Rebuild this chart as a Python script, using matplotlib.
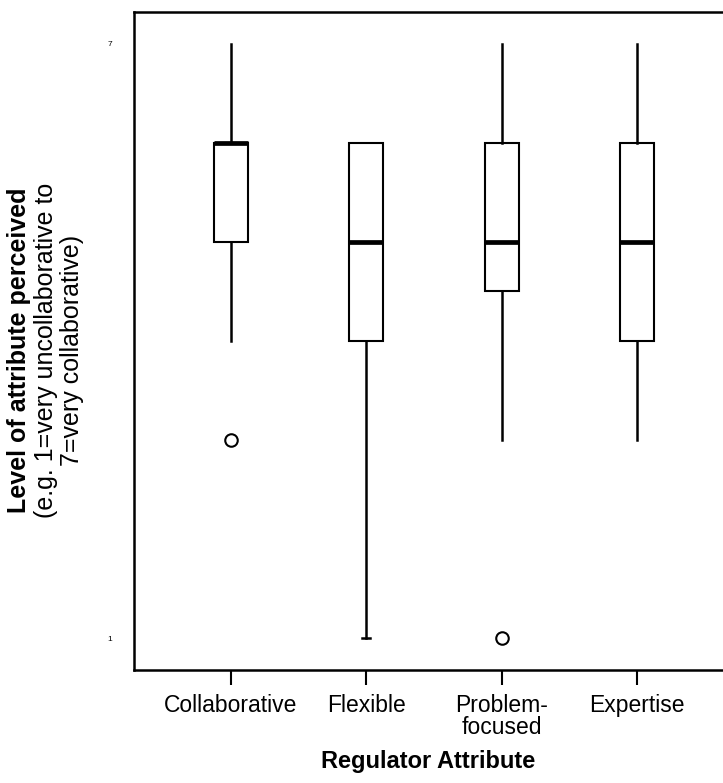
import matplotlib
matplotlib.use("Agg")
import matplotlib.pyplot as plt

plt.rcParams['font.family'] = ['Liberation Sans', 'DejaVu Sans']

# box statistics (scale 1..7)
categories = ['Collaborative', 'Flexible', 'Problem-\nfocused', 'Expertise']
whisker_low = [4, 1, 3, 3]
q1 = [5, 4, 4.5, 4]
median = [6, 5, 5, 5]
q3 = [6, 6, 6, 6]
whisker_high = [7, 6, 7, 7]
outliers = [[3], [], [1], []]

stats = []
for i in range(len(categories)):
    stats.append({
        'whislo': whisker_low[i], 'q1': q1[i], 'med': median[i],
        'q3': q3[i], 'whishi': whisker_high[i], 'fliers': outliers[i],
    })

fig = plt.figure(figsize=(7.23, 7.83), dpi=100)
ax = fig.add_axes([134 / 723, 113 / 783, 1 - 134 / 723, (670 - 12) / 783])

pos = list(range(1, len(categories) + 1))
parts = ax.bxp(stats, positions=pos, widths=0.25, patch_artist=True,
               boxprops=dict(facecolor='white', edgecolor='black', linewidth=1.5),
               medianprops=dict(color='black', linewidth=3.4),
               whiskerprops=dict(color='black', linewidth=1.8),
               capprops=dict(color='black', linewidth=1.8),
               capwidths=0.06,
               flierprops=dict(marker='o', markersize=9, markerfacecolor='none',
                               markeredgecolor='black', markeredgewidth=1.5))
# only the long lower whisker of "Flexible" shows a cap
for j, cap in enumerate(parts['caps']):
    if j != 2:
        cap.set_visible(False)

ax.set_xlim(0.284, 4.635)
ax.set_ylim(0.68, 7.32)
ax.set_xticks(pos)
ax.set_xticklabels(categories, fontsize=16.5, linespacing=0.95)
ax.set_yticks([1, 7])
ax.set_yticklabels(['1', '7'], fontsize=6)
ax.tick_params(axis='y', length=0, pad=16)
ax.tick_params(axis='x', length=11, width=1.5, pad=6)

ax.spines['right'].set_visible(False)
for s in ['left', 'top', 'bottom']:
    ax.spines[s].set_linewidth(1.8)

ax.set_xlabel('Regulator Attribute', fontsize=17, fontweight='bold', labelpad=8)

fig.text(19 / 723, 0.553, 'Level of attribute perceived', rotation=90,
         fontsize=18, fontweight='bold', ha='center', va='center')
fig.text(46 / 723, 0.553, '(e.g. 1=very uncollaborative to', rotation=90,
         fontsize=18, ha='center', va='center')
fig.text(72 / 723, 0.553, '7=very collaborative)', rotation=90,
         fontsize=18, ha='center', va='center')

fig.savefig('out.png', dpi=100)
